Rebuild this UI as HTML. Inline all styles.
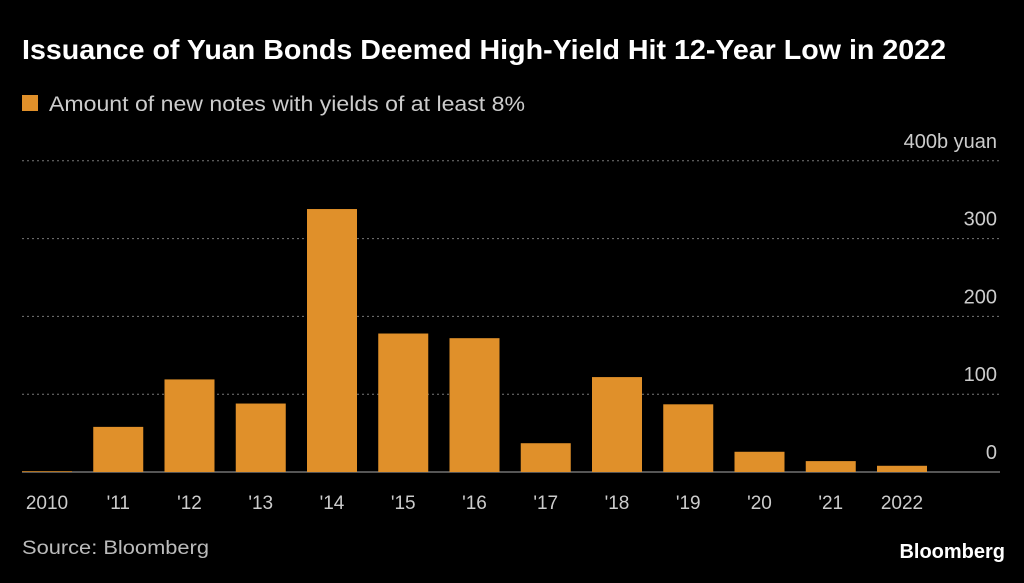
<!DOCTYPE html>
<html><head><meta charset="utf-8"><style>
body{margin:0;background:#000;width:1024px;height:578px;overflow:hidden;font-family:"Liberation Sans",sans-serif;color:#fff}
</style></head><body>
<svg width="1024" height="578">
<text x="22" y="59" font-size="28" font-weight="bold" fill="#fff" textLength="924" lengthAdjust="spacingAndGlyphs">Issuance of Yuan Bonds Deemed High-Yield Hit 12-Year Low in 2022</text>
<rect x="22" y="95" width="16" height="16" fill="#e0902a"/>
<text x="49" y="111" font-size="21" fill="#ccc" textLength="476" lengthAdjust="spacingAndGlyphs">Amount of new notes with yields of at least 8%</text>
<g id="grid"></g><g id="bars"></g><g id="xl"></g>
<text x="22" y="554" font-size="19" fill="#bbb" textLength="187" lengthAdjust="spacingAndGlyphs">Source: Bloomberg</text>
<text x="1005" y="558" font-size="20" font-weight="bold" fill="#fff" text-anchor="end">Bloomberg</text>
</svg>
<script>
const categories=["2010","'11","'12","'13","'14","'15","'16","'17","'18","'19","'20","'21","2022"];
const values=[1,58,119,88,338,178,172,37,122,87,26,14,8];
const ticks=[0,100,200,300,400];
const tickLabels=["0","100","200","300","400b yuan"];
const ns="http://www.w3.org/2000/svg";
const y=v=>472-v*0.778, x=i=>47+i*71.25;
function mk(t,a,p){const e=document.createElementNS(ns,t);for(const k in a)e.setAttribute(k,a[k]);p.appendChild(e);return e;}
const g=document.getElementById('grid');
ticks.forEach((t,i)=>{
 if(t>0){const l=mk('line',{x1:22,x2:1000,y1:y(t),y2:y(t),stroke:'#777','stroke-dasharray':'2,3'},g);
 
 }
 const tx=mk('text',{x:997,y:y(t)-13,'font-size':20,fill:'#ccc','text-anchor':'end'},g);tx.textContent=tickLabels[i];
 
 
});
const bg=document.getElementById('bars'),xl=document.getElementById('xl');
values.forEach((v,i)=>{
 const r=mk('rect',{x:x(i)-25,y:y(v),width:50,height:472-y(v),fill:'#e0902a'},bg);
 
 
 const t=mk('text',{x:x(i),y:509,'font-size':19,fill:'#ccc','text-anchor':'middle'},xl);t.textContent=categories[i];
 
 
});
const ax=mk('line',{x1:22,x2:1000,y1:472,y2:472,stroke:'#aaa'},g);


</script>
</body></html>
